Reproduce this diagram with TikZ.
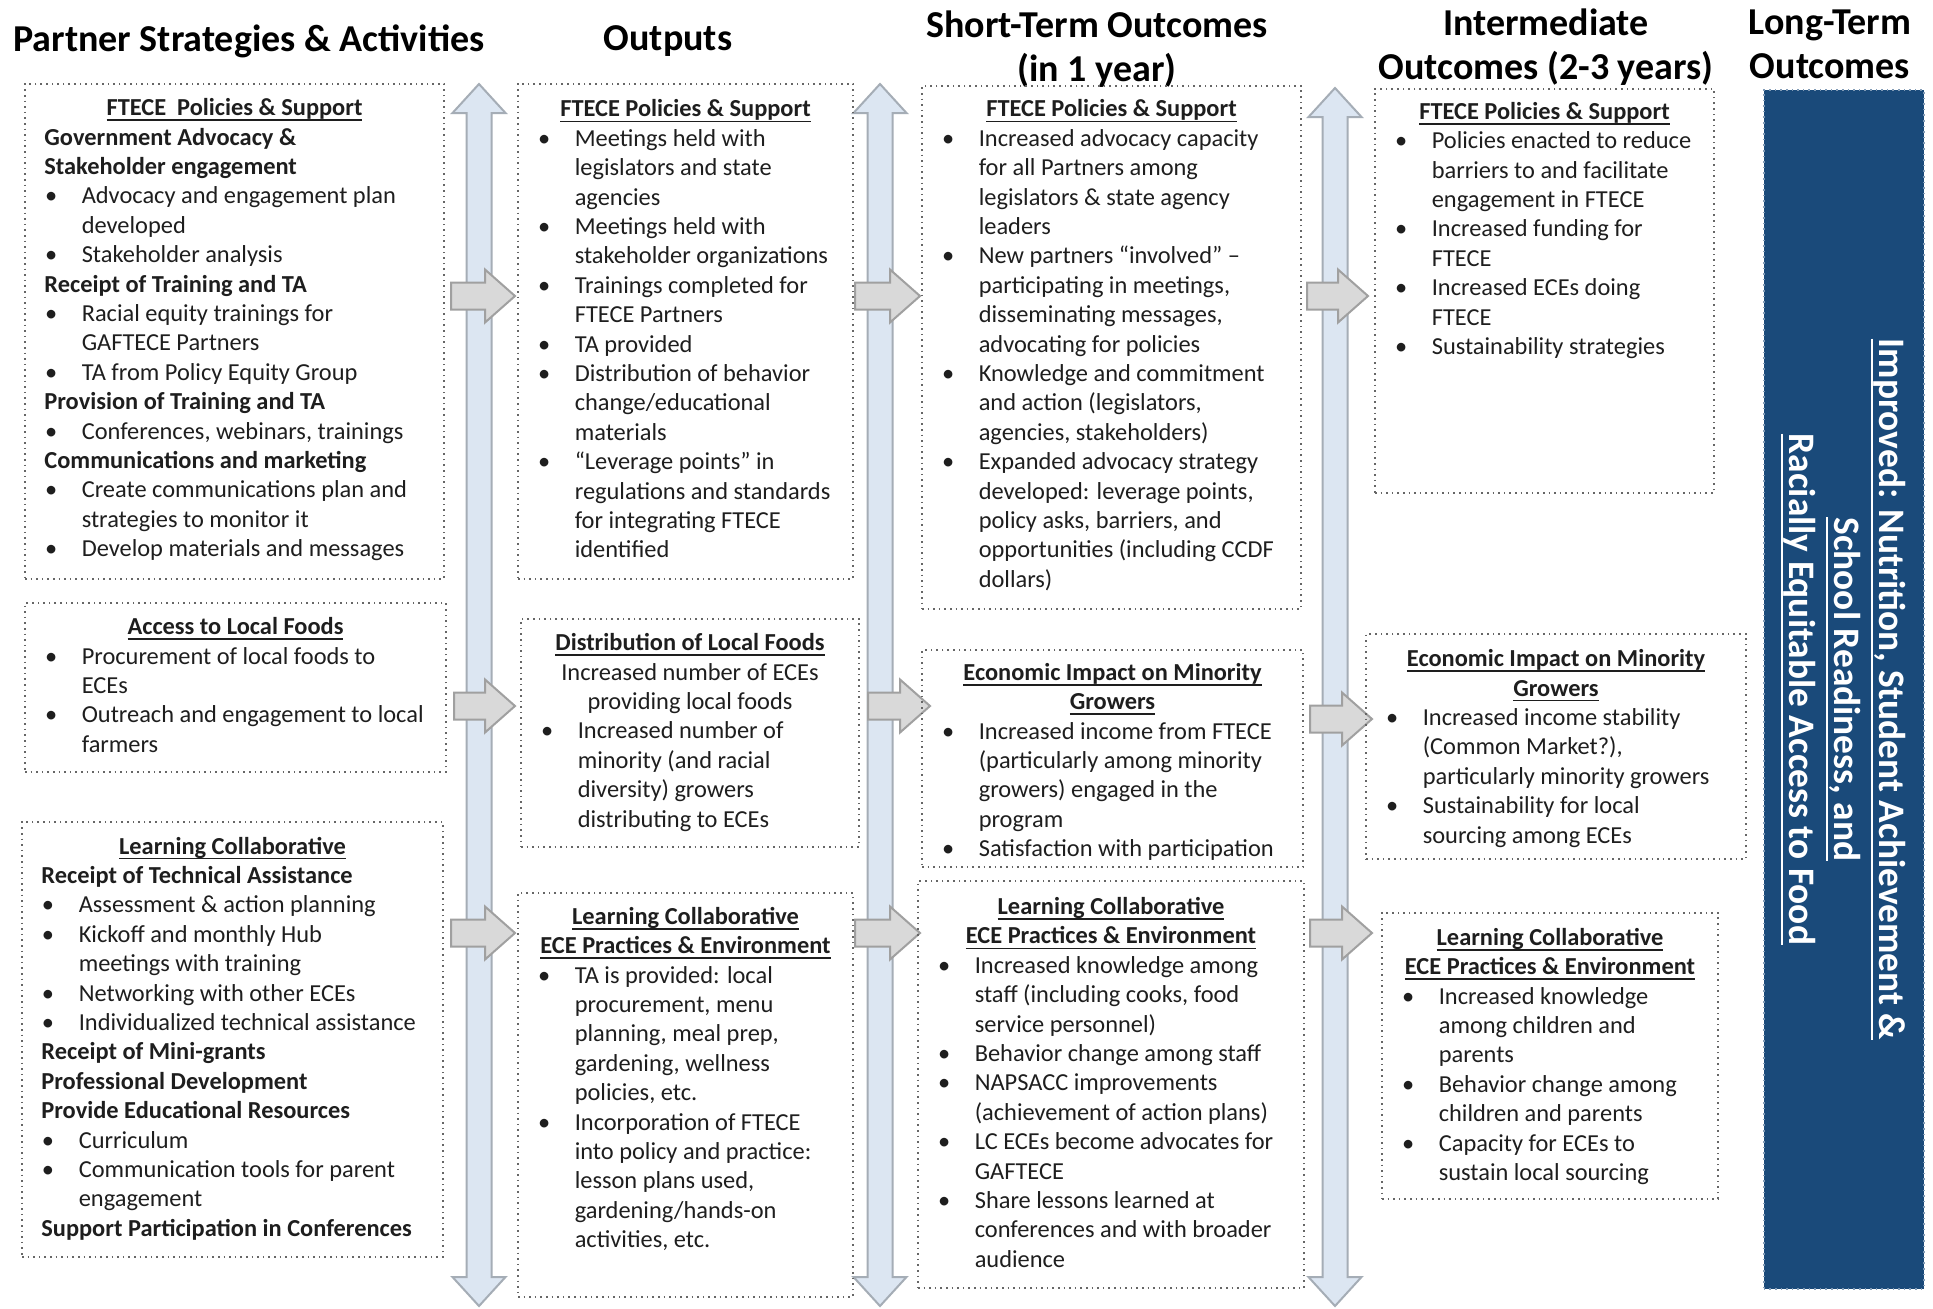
\documentclass[tikz,border=0pt]{standalone}
\usepackage{fontspec}
\setmainfont{Carlito}
\definecolor{arrowblue}{HTML}{DCE6F2}
\definecolor{arrowedge}{HTML}{A5ADB6}
\definecolor{arrowgray}{HTML}{D9D9D9}
\definecolor{grayedge}{HTML}{A0A0A0}
\definecolor{darkblue}{HTML}{1A4A7A}
\definecolor{bodytext}{HTML}{1E1E1E}
\newcommand\NL{\hfil\break}
\newcommand\UL[1]{\setbox0\hbox{#1}\rlap{\rule[-2.7pt]{\wd0}{0.85pt}}\box0}
\newcommand\ULbig[1]{\setbox0\hbox{#1}\rlap{\rule[-4.2pt]{\wd0}{1pt}}\box0}
\newcommand\Itm[1]{\par\noindent\hangindent=38.4pt \hangafter=1 \hskip20pt\hbox to18.4pt{\strut\textbullet\hss}#1}
\newcommand\Hd[1]{\par\noindent\hskip19.7pt\strut\textbf{#1}}
\newcommand\Ttl[1]{\par{\centering\strut\UL{\textbf{#1}}\par}}
\newcommand\Ctr[1]{\par{\centering\strut#1\par}}
\newcommand\CBox[7]{%
  \node[cbx, minimum width={(#4-#2)*0.5pt}, minimum height={(#5-#3)*0.5pt}, anchor=north west] (#1) at (#2,#3) {};
  \pgfmathsetlengthmacro\CBw{(#4-#2+40)*0.5pt}%
  \node[ctx, text width=\CBw, anchor=north west] (#1t) at ({#2-20},#6) {\lineskiplimit=-20pt\relax #7\par};
}
\newcommand\VDArr[3]{\draw[vda] (#1,#2) -- ({#1+26.5},{#2+29}) -- ({#1+12.5},{#2+29}) -- ({#1+12.5},{#3-29}) -- ({#1+26.5},{#3-29}) -- (#1,#3) -- ({#1-26.5},{#3-29}) -- ({#1-12.5},{#3-29}) -- ({#1-12.5},{#2+29}) -- ({#1-26.5},{#2+29}) -- cycle;}
\newcommand\GRArr[3]{\draw[gra] (#1,{#3-13.5}) -- ({#2-30},{#3-13.5}) -- ({#2-30},{#3-26.5}) -- (#2,#3) -- ({#2-30},{#3+26.5}) -- ({#2-30},{#3+13.5}) -- (#1,{#3+13.5}) -- cycle;}
\begin{document}
\begin{tikzpicture}[x=0.5pt,y=-0.5pt,
  cbx/.style={draw=black!60, dotted, line width=0.8pt, inner sep=0pt, outer sep=0pt},
  ctx/.style={inner sep=0pt, outer sep=0pt, align=flush left, text=bodytext,
    font=\fontsize{12.2}{14.7}\selectfont},
  hdr/.style={font=\fontsize{19}{22}\selectfont\bfseries, align=center, inner sep=0pt, text=black},
  vda/.style={fill=arrowblue, draw=arrowedge, line width=1pt, line join=miter},
  gra/.style={fill=arrowgray, draw=grayedge, line width=1pt, line join=miter}]
\useasboundingbox[fill=white] (0,0) rectangle (1933,1308);

% headers
\node[hdr] (h1) at (249,41) {Partner Strategies \& Activities};
\node[hdr] (h2) at (668,41) {Outputs};
\node[hdr] (h3) at (1097,49) {Short-Term Outcomes\\(in 1 year)};
\node[hdr] (h4) at (1546,47) {Intermediate\\Outcomes (2-3 years)};
\node[hdr] (h5) at (1830,44.5) {Long-Term\\Outcomes};

% vertical double arrows
\VDArr{479}{84}{1306}
\VDArr{880}{84}{1306}
\VDArr{1335}{88}{1306}

% horizontal gray arrows
\GRArr{451}{515}{296}
\GRArr{855}{920}{296}
\GRArr{1307}{1368}{296}
\GRArr{454}{515}{706}
\GRArr{868}{930}{706}
\GRArr{1310}{1372}{719}
\GRArr{451}{515}{933}
\GRArr{855}{920}{933}
\GRArr{1310}{1372}{933}

% column 1
\CBox{a1}{25}{84}{444}{579}{86.2}{%
\Ttl{FTECE\ \ Policies \& Support}
\Hd{Government Advocacy \&}
\Hd{Stakeholder engagement}
\Itm{Advocacy and engagement plan\NL developed}
\Itm{Stakeholder analysis}
\Hd{Receipt of Training and TA}
\Itm{Racial equity trainings for\NL GAFTECE Partners}
\Itm{TA from Policy Equity Group}
\Hd{Provision of Training and TA}
\Itm{Conferences, webinars, trainings}
\Hd{Communications and marketing}
\Itm{Create communications plan and\NL strategies to monitor it}
\Itm{Develop materials and messages}}

\CBox{a2}{25}{603}{446}{772}{605.2}{%
\Ttl{Access to Local Foods}
\Itm{Procurement of local foods to\NL ECEs}
\Itm{Outreach and engagement to local\NL farmers}}

\CBox{a3}{22}{822}{443}{1257}{824.6}{%
\Ttl{Learning Collaborative}
\Hd{Receipt of Technical Assistance}
\Itm{Assessment \& action planning}
\Itm{Kickoff and monthly Hub\NL meetings with training}
\Itm{Networking with other ECEs}
\Itm{Individualized technical assistance}
\Hd{Receipt of Mini-grants}
\Hd{Professional Development}
\Hd{Provide Educational Resources}
\Itm{Curriculum}
\Itm{Communication tools for parent\NL engagement}
\Hd{Support Participation in Conferences}}

% column 2
\CBox{b1}{518}{84}{853}{579}{87.4}{%
\Ttl{FTECE Policies \& Support}
\Itm{Meetings held with\NL legislators and state\NL agencies}
\Itm{Meetings held with\NL stakeholder organizations}
\Itm{Trainings completed for\NL FTECE Partners}
\Itm{TA provided}
\Itm{Distribution of behavior\NL change/educational\NL materials}
\Itm{“Leverage points” in\NL regulations and standards\NL for integrating FTECE\NL identified}}

\CBox{b2}{521}{619}{859}{847}{621.2}{%
\Ttl{Distribution of Local Foods}
\Ctr{Increased number of ECEs}
\Ctr{providing local foods}
\Itm{Increased number of\NL minority (and racial\NL diversity) growers\NL distributing to ECEs}}

\CBox{b3}{518}{893}{853}{1297}{894.9}{%
\Ttl{Learning Collaborative}
\Ttl{ECE Practices \& Environment}
\Itm{TA is provided: local\NL procurement, menu\NL planning, meal prep,\NL gardening, wellness\NL policies, etc.}
\Itm{Incorporation of FTECE\NL into policy and practice:\NL lesson plans used,\NL gardening/hands-on\NL activities, etc.}}

% column 3
\CBox{c1}{922}{86}{1301}{609}{87.4}{%
\Ttl{FTECE Policies \& Support}
\Itm{Increased advocacy capacity\NL for all Partners among\NL legislators \& state agency\NL leaders}
\Itm{New partners “involved” –\NL participating in meetings,\NL disseminating messages,\NL advocating for policies}
\Itm{Knowledge and commitment\NL and action (legislators,\NL agencies, stakeholders)}
\Itm{Expanded advocacy strategy\NL developed: leverage points,\NL policy asks, barriers, and\NL opportunities (including CCDF\NL dollars)}}

\CBox{c2}{922}{650}{1303}{867}{650.8}{%
\Ttl{Economic Impact on Minority}
\Ttl{Growers}
\Itm{Increased income from FTECE\NL (particularly among minority\NL growers) engaged in the\NL program}
\Itm{Satisfaction with participation}}

\CBox{c3}{918}{881}{1304}{1288}{885}{%
\Ttl{Learning Collaborative}
\Ttl{ECE Practices \& Environment}
\Itm{Increased knowledge among\NL staff (including cooks, food\NL service personnel)}
\Itm{Behavior change among staff}
\Itm{NAPSACC improvements\NL (achievement of action plans)}
\Itm{LC ECEs become advocates for\NL GAFTECE}
\Itm{Share lessons learned at\NL conferences and with broader\NL audience}}

% column 4
\CBox{d1}{1375}{89}{1714}{493}{89.9}{%
\Ttl{FTECE Policies \& Support}
\Itm{Policies enacted to reduce\NL barriers to and facilitate\NL engagement in FTECE}
\Itm{Increased funding for\NL FTECE}
\Itm{Increased ECEs doing\NL FTECE}
\Itm{Sustainability strategies}}

\CBox{d2}{1366}{634}{1746}{859}{637.2}{%
\Ttl{Economic Impact on Minority}
\Ttl{Growers}
\Itm{Increased income stability\NL (Common Market?),\NL particularly minority growers}
\Itm{Sustainability for local\NL sourcing among ECEs}}

\CBox{d3}{1382}{913}{1718}{1199}{915.8}{%
\Ttl{Learning Collaborative}
\Ttl{ECE Practices \& Environment}
\Itm{Increased knowledge\NL among children and\NL parents}
\Itm{Behavior change among\NL children and parents}
\Itm{Capacity for ECEs to\NL sustain local sourcing}}

% long-term outcome
\node[fill=darkblue, draw=darkblue!55!white, dotted, line width=0.8pt, inner sep=0pt,
  minimum width=80pt, minimum height=599.5pt, anchor=north west] (lt) at (1763,89) {};
\node[rotate=-90, align=center, text=white, inner sep=0pt,
  font=\fontsize{18.7}{22.5}\selectfont\bfseries] (ltt) at (lt.center)
  {\ULbig{Improved: Nutrition, Student Achievement \&}\\
   \ULbig{School Readiness, and}\\
   \ULbig{Racially Equitable Access to Food}};
\end{tikzpicture}
\end{document}
